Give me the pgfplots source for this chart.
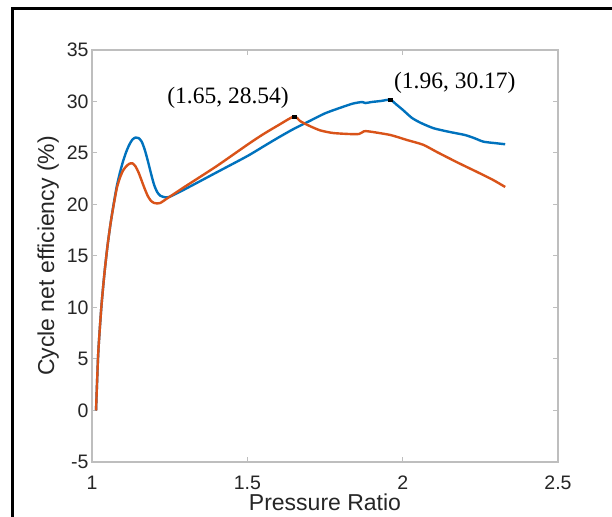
\documentclass[border=0pt]{standalone}
\usepackage{fontspec}
\setmainfont{Liberation Sans}
\newfontfamily\timesf{Liberation Serif}
\usepackage{pgfplots}
\pgfplotsset{compat=1.18}
\definecolor{mblue}{RGB}{0,114,189}
\definecolor{morange}{RGB}{217,83,25}
\definecolor{axgray}{RGB}{190,190,190}
\definecolor{txtgray}{RGB}{38,38,38}
\begin{document}
\begin{tikzpicture}
\useasboundingbox (0,0) rectangle (612pt,516pt);
\fill[white] (0,0) rectangle (612pt,516pt);
\draw[line width=3pt] (12pt,-2pt) -- (12pt,507pt) -- (614pt,507pt);
\begin{axis}[
  at={(92pt,54pt)}, anchor=south west,
  width=466pt, height=412pt, scale only axis,
  xmin=1, xmax=2.5, ymin=-5, ymax=35,
  xtick={1,1.5,2,2.5}, ytick={-5,0,5,10,15,20,25,30,35},
  tick align=inside, major tick length=5pt,
  axis line style={axgray, line width=1.2pt},
  every tick/.style={axgray, line width=1pt},
  tick label style={font=\fontsize{19.5}{22}\selectfont, text=txtgray},
  xticklabel style={anchor=base, yshift=-27pt, inner sep=0pt},
  /pgf/number format/assume math mode=true,
  xlabel={Pressure Ratio}, ylabel={Cycle net efficiency (\%)},
  label style={font=\fontsize{23}{26}\selectfont, text=txtgray},
  xlabel style={at={(axis description cs:0.5,-0.1165)}, anchor=base, inner sep=0pt},
  ylabel style={at={(axis description cs:-0.0815,0.5)}, anchor=base, rotate=0},
  clip=false,
]
\addplot[mblue, line width=2.4pt, smooth, tension=0.4] coordinates {
(1.013,0) (1.02,5.5) (1.03,10) (1.04,13.3) (1.05,16) (1.06,18.2) (1.07,20.1)
(1.08,21.8) (1.09,23.1) (1.10,24.2) (1.11,25.1) (1.12,25.8) (1.13,26.3)
(1.14,26.5) (1.15,26.45) (1.16,26.1) (1.17,25.3) (1.18,24.2) (1.19,23.0)
(1.20,21.9) (1.21,21.2) (1.22,20.85) (1.235,20.7) (1.25,20.75) (1.30,21.5)
(1.40,23.1) (1.50,24.7) (1.55,25.6) (1.60,26.5) (1.65,27.35) (1.70,28.1)
(1.75,28.85) (1.80,29.4) (1.84,29.8) (1.87,29.95) (1.88,29.85) (1.90,29.95)
(1.93,30.05) (1.96,30.17) (1.98,29.7) (2.00,29.2) (2.03,28.4) (2.06,27.9)
(2.10,27.4) (2.15,27.05) (2.20,26.75) (2.23,26.45) (2.26,26.1) (2.30,25.95)
(2.33,25.85)
};
\addplot[morange, line width=2.4pt, smooth, tension=0.4] coordinates {
(1.013,0) (1.02,5.5) (1.03,10) (1.04,13.3) (1.05,16) (1.06,18.2) (1.07,20.0)
(1.08,21.6) (1.09,22.6) (1.10,23.3) (1.11,23.7) (1.12,23.95) (1.13,24.0)
(1.14,23.7) (1.15,23.1) (1.16,22.3) (1.17,21.5) (1.18,20.8) (1.19,20.35)
(1.20,20.15) (1.21,20.1) (1.22,20.15) (1.24,20.55) (1.30,21.75) (1.40,23.7)
(1.50,25.8) (1.55,26.8) (1.60,27.7) (1.65,28.54) (1.67,28.1) (1.695,27.7)
(1.734,27.2) (1.776,26.94) (1.83,26.84) (1.86,26.85) (1.875,27.1) (1.89,27.1)
(1.96,26.75) (2.014,26.26) (2.066,25.8) (2.11,25.1) (2.175,24.1) (2.24,23.15)
(2.29,22.4) (2.33,21.7)
};
\addplot[only marks, mark=square*, mark size=1.8pt, black] coordinates {(1.65,28.54) (1.96,30.17)};
\node[font=\timesf\fontsize{23.5}{26}\selectfont, text=black] at (axis cs:1.438,30.34) {(1.65, 28.54)};
\node[font=\timesf\fontsize{23.5}{26}\selectfont, text=black] at (axis cs:2.168,31.8) {(1.96, 30.17)};
\end{axis}
\end{tikzpicture}
\end{document}
